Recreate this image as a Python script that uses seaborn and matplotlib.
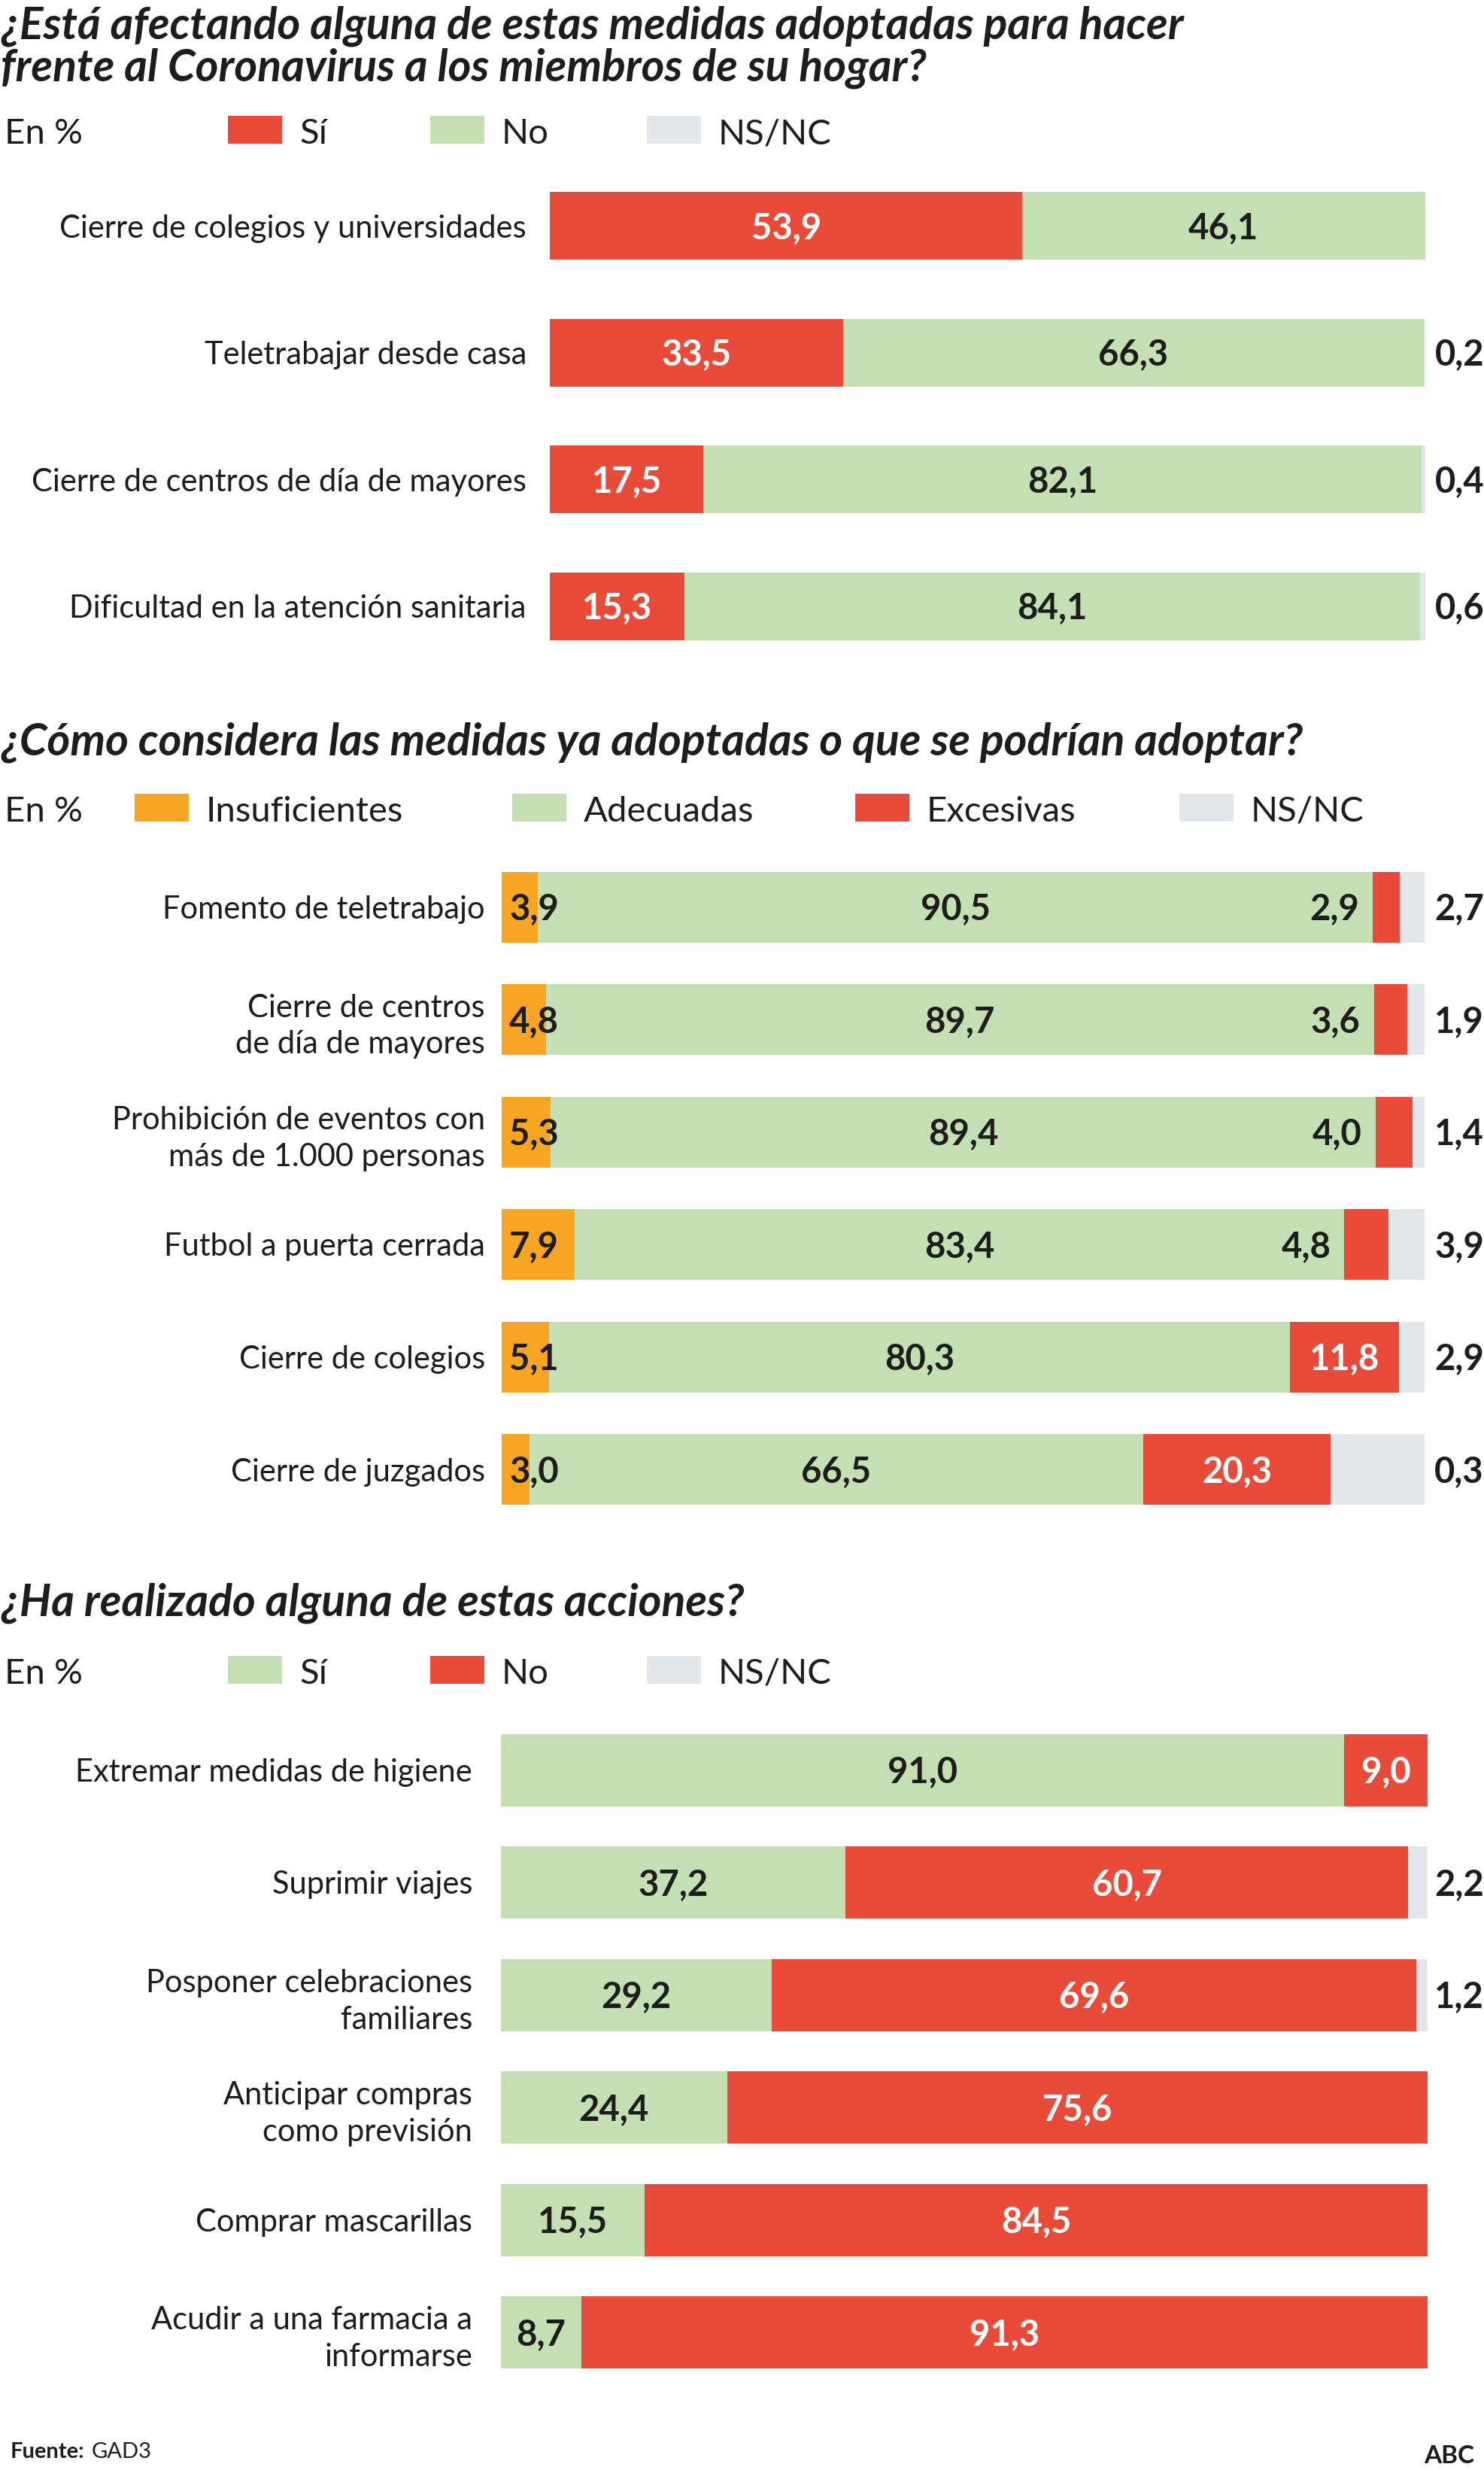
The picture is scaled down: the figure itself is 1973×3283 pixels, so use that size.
import matplotlib
matplotlib.use("Agg")
import matplotlib.pyplot as plt
from matplotlib.patches import Rectangle
import seaborn as sns

# ---------------- data ----------------
q1_title = ["¿Está afectando alguna de estas medidas adoptadas para hacer",
            "frente al Coronavirus a los miembros de su hogar?"]
q1_categories = ["Cierre de colegios y universidades", "Teletrabajar desde casa",
                 "Cierre de centros de día de mayores", "Dificultad en la atención sanitaria"]
q1_series = ["Sí", "No", "NS/NC"]
q1_si = [53.9, 33.5, 17.5, 15.3]
q1_no = [46.1, 66.3, 82.1, 84.1]
q1_nsnc = [0.0, 0.2, 0.4, 0.6]

q2_title = ["¿Cómo considera las medidas ya adoptadas o que se podrían adoptar?"]
q2_categories = ["Fomento de teletrabajo", "Cierre de centros\nde día de mayores",
                 "Prohibición de eventos con\nmás de 1.000 personas", "Futbol a puerta cerrada",
                 "Cierre de colegios", "Cierre de juzgados"]
q2_series = ["Insuficientes", "Adecuadas", "Excesivas", "NS/NC"]
q2_insuf = [3.9, 4.8, 5.3, 7.9, 5.1, 3.0]
q2_adec = [90.5, 89.7, 89.4, 83.4, 80.3, 66.5]
q2_exces = [2.9, 3.6, 4.0, 4.8, 11.8, 20.3]
q2_nsnc = [2.7, 1.9, 1.4, 3.9, 2.9, 0.3]

q3_title = ["¿Ha realizado alguna de estas acciones?"]
q3_categories = ["Extremar medidas de higiene", "Suprimir viajes",
                 "Posponer celebraciones\nfamiliares", "Anticipar compras\ncomo previsión",
                 "Comprar mascarillas", "Acudir a una farmacia a\ninformarse"]
q3_series = ["Sí", "No", "NS/NC"]
q3_si = [91.0, 37.2, 29.2, 24.4, 15.5, 8.7]
q3_no = [9.0, 60.7, 69.6, 75.6, 84.5, 91.3]
q3_nsnc = [0.0, 2.2, 1.2, 0.0, 0.0, 0.0]

full_scale = 100.0
unit_label = "En %"
source_bold = "Fuente:"
source_text = "GAD3"
brand = "ABC"

# ---------------- style ----------------
RED = "#E84B3A"
GREEN = "#C4DFB4"
GREY = "#E2E7EB"
ORANGE = "#F6A623"
INK = "#1D1D1B"

W, H, DPI = 1974, 3283, 100
sns.set_style("white")
plt.rcParams["font.family"] = ["Lato", "DejaVu Sans"]

TITLE_PT = 42.5
LEGEND_PT = 34
CAT_PT = 30
VAL_PT = 34

fig = plt.figure(figsize=(W / DPI, H / DPI), dpi=DPI)
fig.patch.set_facecolor("white")


def fx(x):
    return x / W


def fy(y):
    return 1 - y / H


def fmt(v):
    return f"{v:.1f}".replace(".", ",")


def make_axes(left, right, first_center, pitch, n):
    top = first_center - pitch / 2
    bottom = first_center + (n - 0.5) * pitch
    return fig.add_axes([fx(left), fy(bottom), (right - left) / W, (bottom - top) / H])


def stacked(ax, cats, layers, colors, bar_h, pad_px):
    n = len(cats)
    cums = []
    run = [0.0] * n
    for vals in layers:
        run = [r + v for r, v in zip(run, vals)]
        cums.append(list(run))
    # NS/NC remainder up to 100 %
    sns.barplot(x=[full_scale] * n, y=cats, order=cats, orient="h", color=GREY,
                saturation=1, width=bar_h, linewidth=0, ax=ax)
    for c, col in reversed(list(zip(cums, colors))):
        sns.barplot(x=c, y=cats, order=cats, orient="h", color=col,
                    saturation=1, width=bar_h, linewidth=0, ax=ax)
    ax.set_xlim(0, full_scale)
    ax.set_ylim(n - 0.5, -0.5)
    ax.set_xlabel("")
    ax.set_ylabel("")
    ax.set_xticks([])
    for s in ax.spines.values():
        s.set_visible(False)
    ax.tick_params(axis="y", length=0, pad=pad_px * 0.72, labelsize=CAT_PT, labelcolor=INK)
    for t in ax.get_yticklabels():
        t.set_linespacing(1.35)
    ax.set_facecolor("none")
    return cums


def val(ax, x, i, v, color, ha="center", dx=0):
    ax.annotate(fmt(v), xy=(x, i), xytext=(dx, -3), textcoords="offset pixels",
                ha=ha, va="center", fontsize=VAL_PT, fontweight="bold", color=color)


def title(lines, first_baseline):
    for k, t in enumerate(lines):
        fig.text(fx(1), fy(first_baseline + k * 55), t, fontsize=TITLE_PT,
                 fontweight="bold", fontstyle="italic", color=INK, va="baseline", ha="left")


def legend(baseline, items):
    fig.text(fx(6), fy(baseline), unit_label, fontsize=LEGEND_PT, color=INK,
             va="baseline", ha="left")
    for x0, lab, col in items:
        fig.add_artist(Rectangle((fx(x0), fy(baseline)), 72 / W, 37 / H,
                                 transform=fig.transFigure, facecolor=col, lw=0))
        fig.text(fx(x0 + 95), fy(baseline), lab, fontsize=LEGEND_PT, color=INK,
                 va="baseline", ha="left")


# ---------------- section 1 ----------------
title(q1_title, 52)
legend(191, [(303, q1_series[0], RED), (572, q1_series[1], GREEN), (860, q1_series[2], GREY)])
ax1 = make_axes(731.5, 1895, 300, 168.5, len(q1_categories))
stacked(ax1, q1_categories, [q1_si, q1_no], [RED, GREEN], 90 / 168.5, 31.5)
for i in range(len(q1_categories)):
    val(ax1, q1_si[i] / 2, i, q1_si[i], "white")
    val(ax1, q1_si[i] + q1_no[i] / 2, i, q1_no[i], INK)
    if q1_nsnc[i] > 0:
        val(ax1, full_scale, i, q1_nsnc[i], INK, ha="left", dx=13)

# ---------------- section 2 ----------------
title(q2_title, 1003)
legend(1092, [(179, q2_series[0], ORANGE), (681, q2_series[1], GREEN),
              (1137, q2_series[2], RED), (1568, q2_series[3], GREY)])
ax2 = make_axes(667, 1894, 1205.5, 149.5, len(q2_categories))
stacked(ax2, q2_categories, [q2_insuf, q2_adec, q2_exces], [ORANGE, GREEN, RED], 94 / 149.5, 22)
for i in range(len(q2_categories)):
    val(ax2, 0, i, q2_insuf[i], INK, ha="left", dx=10)
    val(ax2, q2_insuf[i] + q2_adec[i] / 2, i, q2_adec[i], INK)
    start = q2_insuf[i] + q2_adec[i]
    if q2_exces[i] >= 10:
        val(ax2, start + q2_exces[i] / 2, i, q2_exces[i], "white")
    else:
        val(ax2, start, i, q2_exces[i], INK, ha="right", dx=-18)
    val(ax2, full_scale, i, q2_nsnc[i], INK, ha="left", dx=13)

# ---------------- section 3 ----------------
title(q3_title, 2148)
legend(2238, [(303, q3_series[0], GREEN), (572, q3_series[1], RED), (860, q3_series[2], GREY)])
ax3 = make_axes(666, 1898, 2352.5, 149.5, len(q3_categories))
stacked(ax3, q3_categories, [q3_si, q3_no], [GREEN, RED], 96 / 149.5, 38)
for i in range(len(q3_categories)):
    val(ax3, q3_si[i] / 2, i, q3_si[i], INK)
    val(ax3, q3_si[i] + q3_no[i] / 2, i, q3_no[i], "white")
    if q3_nsnc[i] > 0:
        val(ax3, full_scale, i, q3_nsnc[i], INK, ha="left", dx=9)

# ---------------- footer ----------------
fb = fig.text(fx(14), fy(3267), source_bold, fontsize=21, fontweight="bold", color=INK,
              va="baseline", ha="left")
renderer = fig.canvas.get_renderer()
bb = fb.get_window_extent(renderer=renderer)
fig.text(fx(bb.x1 + 9), fy(3267), source_text, fontsize=21, color=INK, va="baseline", ha="left")
fig.text(fx(1960), fy(3274), brand, fontsize=24, fontweight="bold", color=INK,
         va="baseline", ha="right")

fig.savefig("out.png", dpi=DPI, facecolor="white")
